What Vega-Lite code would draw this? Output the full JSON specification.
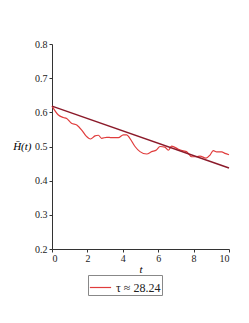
{
  "$schema": "https://vega.github.io/schema/vega-lite/v6.json",
  "width": 177,
  "height": 205,
  "autosize": {"type": "none"},
  "padding": {"left": 52, "top": 44, "right": 20, "bottom": 74},
  "background": "white",
  "config": {
    "view": {"stroke": null},
    "font": "serif",
    "axis": {"labelFont": "serif", "titleFont": "serif", "labelFontSize": 10, "labelColor": "#222", "domainColor": "#333", "tickColor": "#333", "grid": false, "tickSize": 3, "labelOverlap": false},
    "legend": {"labelFont": "serif"}
  },
  "datasets": {
    "fit": [{"t": 0, "h": 0.618}, {"t": 10, "h": 0.437}],
    "sim": [
      {"t": 0, "h": 0.618}, {"t": 0.36, "h": 0.592}, {"t": 0.64, "h": 0.585}, {"t": 0.83, "h": 0.582},
      {"t": 1.1, "h": 0.568}, {"t": 1.4, "h": 0.563}, {"t": 1.68, "h": 0.548}, {"t": 1.92, "h": 0.531},
      {"t": 2.18, "h": 0.522}, {"t": 2.43, "h": 0.531}, {"t": 2.62, "h": 0.533}, {"t": 2.8, "h": 0.524},
      {"t": 3.09, "h": 0.527}, {"t": 3.37, "h": 0.526}, {"t": 3.75, "h": 0.526}, {"t": 4.03, "h": 0.534},
      {"t": 4.22, "h": 0.534}, {"t": 4.4, "h": 0.524}, {"t": 4.69, "h": 0.5}, {"t": 4.97, "h": 0.485},
      {"t": 5.35, "h": 0.478}, {"t": 5.63, "h": 0.485}, {"t": 5.9, "h": 0.49}, {"t": 6.1, "h": 0.5},
      {"t": 6.38, "h": 0.498}, {"t": 6.57, "h": 0.489}, {"t": 6.76, "h": 0.501}, {"t": 7.14, "h": 0.492},
      {"t": 7.42, "h": 0.487}, {"t": 7.6, "h": 0.485}, {"t": 7.89, "h": 0.47}, {"t": 8.17, "h": 0.47},
      {"t": 8.36, "h": 0.472}, {"t": 8.7, "h": 0.466}, {"t": 8.93, "h": 0.475}, {"t": 9.11, "h": 0.488},
      {"t": 9.3, "h": 0.484}, {"t": 9.59, "h": 0.484}, {"t": 9.77, "h": 0.48}, {"t": 10, "h": 0.476}
    ]
  },
  "encoding": {
    "x": {"field": "t", "type": "quantitative", "scale": {"domain": [0, 10], "nice": false},
      "axis": {"values": [0, 2, 4, 6, 8, 10], "labelOverlap": false, "labelFont": "serif", "title": "t", "titleFontStyle": "italic", "titleFontWeight": "normal", "titleFontSize": 11, "titlePadding": 0, "labelPadding": 1}},
    "y": {"field": "h", "type": "quantitative", "scale": {"domain": [0.2, 0.8], "nice": false, "zero": false},
      "axis": {"values": [0.2, 0.3, 0.4, 0.5, 0.6, 0.7, 0.8], "labelOverlap": false, "labelFont": "serif", "format": ".1f", "title": "H̄(t)", "titleAngle": 0, "titleAlign": "right", "titleBaseline": "middle", "titleX": -21, "titleY": 102.5, "titleFontStyle": "italic", "titleFontWeight": "normal", "titleFontSize": 11, "labelPadding": 2}}
  },
  "layer": [
    {
      "data": {"name": "sim"},
      "mark": {"type": "line", "strokeWidth": 1.2, "interpolate": "monotone"},
      "encoding": {
        "color": {"datum": "τ ≈ 28.24", "type": "nominal", "scale": {"range": ["#e03c3c"]},
          "legend": {"title": null, "orient": "none", "legendX": 36, "legendY": 231, "strokeColor": "#888", "padding": 1, "symbolType": "stroke", "symbolSize": 450, "symbolStrokeWidth": 1.2, "labelFont": "serif", "labelFontSize": 12, "labelColor": "#222", "labelOffset": 4}}
      }
    },
    {
      "data": {"name": "fit"},
      "mark": {"type": "line", "stroke": "#8b1a2a", "strokeWidth": 1.4},
      "encoding": {}
    }
  ]
}
